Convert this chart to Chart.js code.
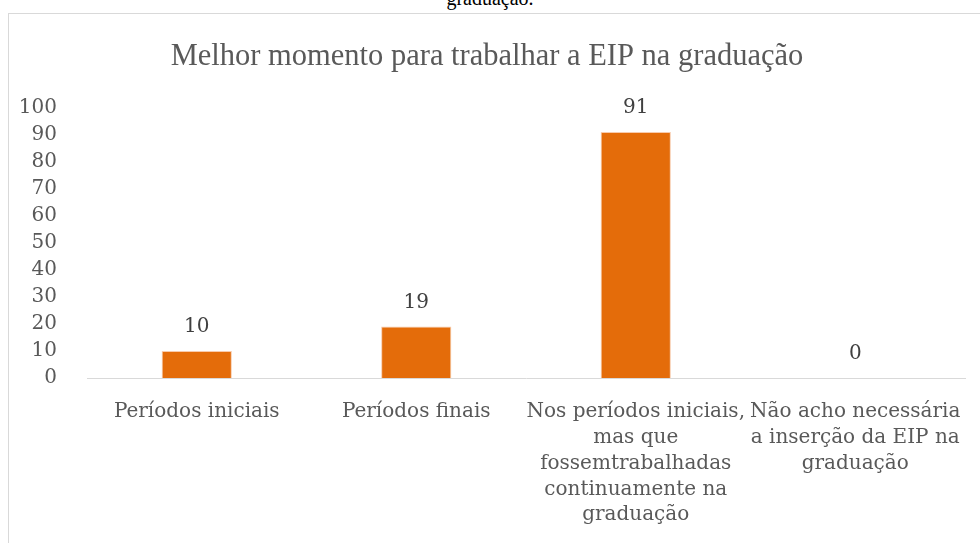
<!DOCTYPE html>
<html>
<head>
<meta charset="utf-8">
<script src="https://cdn.jsdelivr.net/npm/chart.js@4"></script>
<style>
  html, body { margin: 0; padding: 0; background: #fff; overflow: hidden; }
  body { width: 980px; height: 543px; position: relative; }
  #cap { position: absolute; left: 0; width: 980px; top: -13px; text-align: center;
         font: 20px "Liberation Serif", serif; line-height: 22px; color: #000; }
  #box { position: absolute; left: 8px; top: 13px; width: 1000px; height: 600px;
         border: 1px solid #d9d9d9; }
  #wrap { position: absolute; left: 9px; top: 14px; width: 971px; height: 529px; }
</style>
</head>
<body>
<div id="cap">graduação.</div>
<div id="box"></div>
<div id="wrap"><canvas id="myChart"></canvas></div>
<script>
// dados do gráfico
const categorias = [
  ['Períodos iniciais'],
  ['Períodos finais'],
  ['Nos períodos iniciais,', 'mas que', 'fossemtrabalhadas', 'continuamente na', 'graduação'],
  ['Não acho necessária', 'a inserção da EIP na', 'graduação']
];
const valores = [10, 19, 91, 0];
const titulo = 'Melhor momento para trabalhar a EIP na graduação';

// rótulos de valor acima das barras
const rotulos = {
  id: 'rotulos',
  afterDatasetsDraw(chart) {
    const ctx = chart.ctx;
    const meta = chart.getDatasetMeta(0);
    ctx.save();
    ctx.font = '20px "DejaVu Serif", serif';
    ctx.fillStyle = '#404040';
    ctx.textAlign = 'center';
    ctx.textBaseline = 'middle';
    meta.data.forEach((bar, i) => {
      ctx.fillText(valores[i], bar.x, bar.y - 24);
    });
    ctx.restore();
  }
};

var ctx = document.getElementById('myChart').getContext('2d');
var myChart = new Chart(ctx, {
  type: 'bar',
  data: {
    labels: categorias,
    datasets: [{
      data: valores,
      backgroundColor: '#E46C0A',
      borderColor: '#F8CBAD',
      borderWidth: 1,
      categoryPercentage: 1,
      barPercentage: 0.32
    }]
  },
  options: {
    responsive: true,
    maintainAspectRatio: false,
    animation: false,
    layout: { padding: { left: 0, right: 15, top: 0, bottom: 0 } },
    plugins: {
      legend: { display: false },
      tooltip: { enabled: false },
      title: {
        display: true,
        text: titulo,
        color: '#595959',
        font: { family: '"Liberation Serif", serif', size: 30.5, weight: 'normal' },
        padding: { top: 25, bottom: 32 }
      }
    },
    scales: {
      x: {
        grid: { display: false },
        border: { display: true, color: '#d9d9d9', width: 1 },
        afterFit(scale) { scale.height = 165; },
        ticks: {
          color: '#595959',
          padding: 13,
          maxRotation: 0,
          autoSkip: false,
          font: { family: '"DejaVu Serif", serif', size: 20, lineHeight: 1.29 }
        }
      },
      y: {
        min: 0,
        max: 100,
        grid: { display: false },
        border: { display: false },
        afterFit(scale) { scale.width = 78; },
        ticks: {
          stepSize: 10,
          color: '#595959',
          padding: 22,
          font: { family: '"DejaVu Serif", serif', size: 20 }
        }
      }
    }
  },
  plugins: [rotulos]
});
</script>
</body>
</html>
